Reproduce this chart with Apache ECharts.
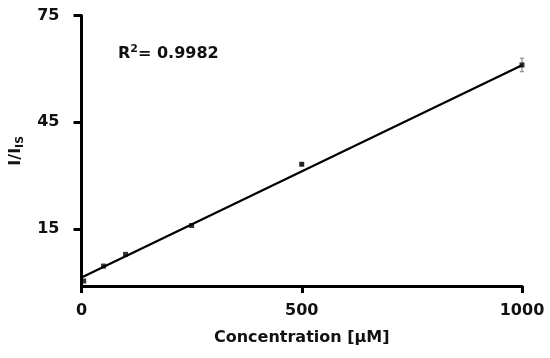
<!DOCTYPE html>
<html>
<head>
<meta charset="utf-8">
<script src="https://cdn.jsdelivr.net/npm/echarts@6/dist/echarts.min.js"></script>
<style>html,body{margin:0;padding:0;background:#fff}#c{width:550px;height:358px}</style>
</head>
<body>
<div id="c"></div>
<script>
var concentrations = [5, 50, 100, 250, 500, 1000];
var ratios = [0.4, 4.6, 7.9, 16.0, 33.2, 61.1];
var errors = [0, 0, 0, 0, 0.3, 1.9];
var fitX = [0, 1000];
var fitY = [1.4, 61.0];
var xTicks = [0, 500, 1000];
var yTicks = [15, 45, 75];

var FONT = '"DejaVu Sans", Arial, sans-serif';
var chart = echarts.init(document.getElementById('c'));
var pts = concentrations.map(function (c, i) { return [c, ratios[i]]; });
var errData = concentrations.map(function (c, i) { return [c, ratios[i] - errors[i], ratios[i] + errors[i]]; });
var fitData = fitX.map(function (x, i) { return [x, fitY[i]]; });

chart.setOption({
  animation: false,
  backgroundColor: '#fff',
  grid: { left: 79, right: 28, top: 15.5, bottom: 72 },
  xAxis: {
    type: 'value', min: 0, max: 1000, interval: 500,
    name: 'Concentration [\u00b5M]', nameLocation: 'middle', nameGap: 44,
    nameTextStyle: { fontFamily: FONT, fontWeight: 'bold', fontSize: 16, color: '#111' },
    axisLine: { show: true, onZero: false, lineStyle: { color: '#000', width: 3 } },
    axisTick: { show: true, length: 7, lineStyle: { color: '#000', width: 3 } },
    axisLabel: { fontFamily: FONT, fontWeight: 'bold', fontSize: 16, color: '#111', margin: 17,
      customValues: xTicks, formatter: function (v) { return String(v); } },
    splitLine: { show: false }
  },
  yAxis: {
    type: 'value', min: -1, max: 75,
    name: '{a|I/I}{s|IS}', nameLocation: 'middle', nameGap: 56, nameRotate: 90,
    nameTextStyle: { rich: {
      a: { fontFamily: FONT, fontWeight: 'bold', fontSize: 16, color: '#111' },
      s: { fontFamily: FONT, fontWeight: 'bold', fontSize: 11, color: '#111', verticalAlign: 'bottom', padding: [8, 0, 0, 0] }
    } },
    axisLine: { show: true, onZero: false, lineStyle: { color: '#000', width: 3 } },
    axisTick: { show: true, length: 8, lineStyle: { color: '#000', width: 3 }, customValues: yTicks },
    axisLabel: { fontFamily: FONT, fontWeight: 'bold', fontSize: 16, color: '#111', margin: 22,
      customValues: yTicks },
    splitLine: { show: false }
  },
  graphic: [{
    type: 'text', left: 118, top: 44,
    style: { text: '{a|R}{b|2}{a|= 0.9982}',
      rich: {
        a: { fontFamily: FONT, fontWeight: 'bold', fontSize: 16, fill: '#111' },
        b: { fontFamily: FONT, fontWeight: 'bold', fontSize: 11, fill: '#111', verticalAlign: 'top', padding: [0, 0, 8, 0] }
      } }
  }],
  series: [
    { type: 'line', data: fitData, showSymbol: false, symbol: 'none',
      lineStyle: { color: '#000', width: 2.2 }, z: 2 },
    { type: 'custom', data: errData, z: 3,
      renderItem: function (params, api) {
        var x = api.value(0);
        var lo = api.coord([x, api.value(1)]);
        var hi = api.coord([x, api.value(2)]);
        if (Math.abs(lo[1] - hi[1]) < 1) return null;
        return { type: 'group', children: [
          { type: 'line', shape: { x1: lo[0], y1: lo[1], x2: hi[0], y2: hi[1] }, style: { stroke: '#777', lineWidth: 1 } },
          { type: 'line', shape: { x1: lo[0] - 2, y1: lo[1], x2: lo[0] + 2, y2: lo[1] }, style: { stroke: '#777', lineWidth: 1 } },
          { type: 'line', shape: { x1: hi[0] - 2, y1: hi[1], x2: hi[0] + 2, y2: hi[1] }, style: { stroke: '#777', lineWidth: 1 } }
        ] };
      } },
    { type: 'scatter', data: pts, symbol: 'rect', symbolSize: 5,
      itemStyle: { color: '#000' }, z: 4 }
  ]
});
</script>
</body>
</html>
